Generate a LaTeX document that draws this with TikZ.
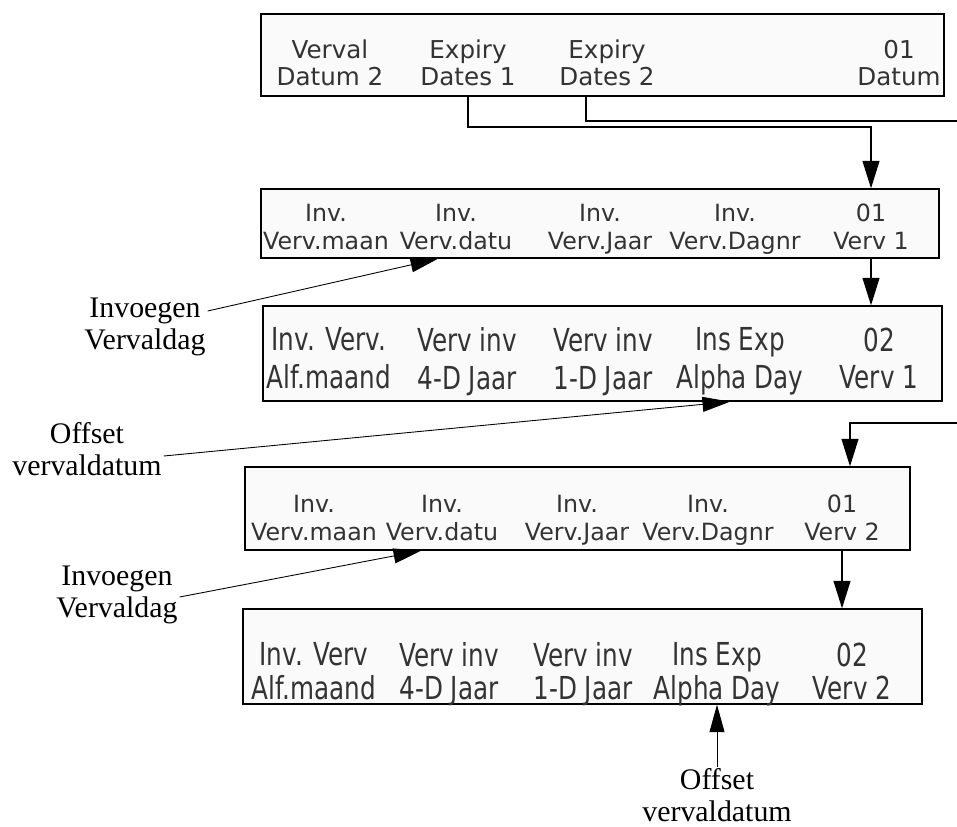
\documentclass[tikz,border=0pt]{standalone}
\usepackage{fontspec}
\setmainfont{Liberation Serif}
\newfontfamily\lcdfont{DejaVu Sans}
\newfontfamily\lcdnarrow[FakeStretch=0.78]{DejaVu Sans}
\usetikzlibrary{arrows.meta, fit, positioning}
\tikzset{
  screen/.style={draw, line width=0.8pt, fill=black!2, inner sep=0pt},
  softkey/.style={align=center, text=black!80, inner sep=0pt,
    execute at begin node=\strut, execute at end node=\strut},
  keytop/.style={softkey, font=\lcdfont\fontsize{14}{15.5}\selectfont},
  keymid/.style={softkey, font=\lcdfont\fontsize{13.5}{16}\selectfont},
  keywide/.style={softkey, font=\lcdnarrow\fontsize{18}{#1}\selectfont},
  note/.style={align=center, inner sep=1pt, font=\fontsize{17}{17.8}\selectfont},
  flow/.style={line width=0.7pt, -{Triangle[length=5.5mm, width=3.4mm]}},
  wire/.style={line width=0.7pt},
  hint/.style={line width=0.5pt, -{Triangle[length=5.5mm, width=3mm]}}
}

\begin{document}
\begin{tikzpicture}[x=0.02cm, y=-0.02cm]
  \useasboundingbox (0,0) rectangle (957,826);

  % screens
  \node[screen, fit={(261,14) (944,96)}] (datscr) {};
  \node[screen, fit={(261,189) (939,258)}] (ver1scr) {};
  \node[screen, fit={(263,306) (942,401)}] (alf1scr) {};
  \node[screen, fit={(245,467) (910,550)}] (ver2scr) {};
  \node[screen, fit={(243,609) (922,704)}] (alf2scr) {};

  % soft keys, top screen
  \node[keytop] (dat0) at (330,67) {Verval\\Datum 2};
  \node[keytop] (dat1) at (468,67) {Expiry\\Dates 1};
  \node[keytop] (dat2) at (607,67) {Expiry\\Dates 2};
  \node[keytop] (dat3) at (899,67) {01\\Datum};

  % Verv 1, page 01
  \node[keymid] (v1k0) at (326,231) {Inv.\\Verv.maan};
  \node[keymid] (v1k1) at (456,231) {Inv.\\Verv.datu};
  \node[keymid] (v1k2) at (600,231) {Inv.\\Verv.Jaar};
  \node[keymid] (v1k3) at (735,231) {Inv.\\Verv.Dagnr};
  \node[keymid] (v1k4) at (871,231) {01\\Verv 1};

  % Verv 1, page 02
  \node[keywide=21.5] (a1k0) at (329,364) {Inv. Verv.\\Alf.maand};
  \node[keywide=21.5] (a1k1) at (467,364) {Verv inv\\4-D Jaar};
  \node[keywide=21.5] (a1k2) at (603,364) {Verv inv\\1-D Jaar};
  \node[keywide=21.5] (a1k3) at (740,364) {Ins Exp\\Alpha Day};
  \node[keywide=21.5] (a1k4) at (879,364) {02\\Verv 1};

  % Verv 2, page 01
  \node[keymid] (v2k0) at (314,522) {Inv.\\Verv.maan};
  \node[keymid] (v2k1) at (442,522) {Inv.\\Verv.datu};
  \node[keymid] (v2k2) at (577,522) {Inv.\\Verv.Jaar};
  \node[keymid] (v2k3) at (708,522) {Inv.\\Verv.Dagnr};
  \node[keymid] (v2k4) at (842,522) {01\\Verv 2};

  % Verv 2, page 02
  \node[keywide=19] (a2k0) at (314,676) {Inv. Verv\\Alf.maand};
  \node[keywide=19] (a2k1) at (449,676) {Verv inv\\4-D Jaar};
  \node[keywide=19] (a2k2) at (583,676) {Verv inv\\1-D Jaar};
  \node[keywide=19] (a2k3) at (717,676) {Ins Exp\\Alpha Day};
  \node[keywide=19] (a2k4) at (852,676) {02\\Verv 2};

  % callouts
  \node[note] (inv1) at (145,327) {Invoegen\\Vervaldag};
  \node[note] (off1) at (87,449) {Offset\\vervaldatum};
  \node[note] (inv2) at (117,595) {Invoegen\\Vervaldag};
  \node[note] (off2) at (717,795) {Offset\\vervaldatum};

  \coordinate (exit) at (957,121);
  \coordinate (entry) at (957,423);

  % flow between screens
  \draw[flow] (dat1 |- datscr.south) |- (v1k4 |- 0,127) -- (v1k4 |- ver1scr.north);
  \draw[wire] (datscr.south -| 586,0) |- (exit);
  \draw[flow] (v1k4 |- ver1scr.south) -- (v1k4 |- alf1scr.north);
  \draw[flow] (entry) -| (850,0 |- ver2scr.north);
  \draw[flow] (v2k4 |- ver2scr.south) -- (v2k4 |- alf2scr.north);

  % callout arrows
  \draw[hint] (inv1.east |- 0,311) -- (438,0 |- ver1scr.south);
  \draw[hint] (off1.east |- 0,456) -- (730,0 |- alf1scr.south);
  \draw[hint] (inv2.east |- 0,597) -- (421,0 |- ver2scr.south);
  \draw[hint] (off2.north) -- (off2 |- alf2scr.south);
\end{tikzpicture}
\end{document}
